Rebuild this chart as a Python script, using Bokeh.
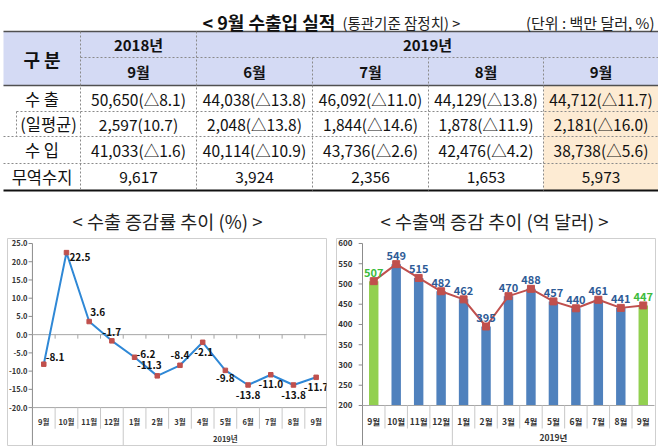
from bokeh.plotting import figure
from bokeh.models import (Range1d, FixedTicker, NumeralTickFormatter, Span, ColumnDataSource)
from bokeh.layouts import column, row
from bokeh.embed import file_html
from bokeh.resources import INLINE
from bokeh.core.properties import value, field

FONT = "Noto Sans CJK KR"

# ---------------- table data ----------------
table_title = "< 9월 수출입 실적"
table_subtitle = "(통관기준 잠정치) >"
table_unit = "(단위 : 백만 달러, %)"
header_label = "구 분"
header_years = ["2018년", "2019년"]
header_months = ["9월", "6월", "7월", "8월", "9월"]
row_labels = ["수 출", "(일평균)", "수 입", "무역수지"]
export_amt = [50650, 44038, 46092, 44129, 44712]
export_chg = [-8.1, -13.8, -11.0, -13.8, -11.7]
daily_amt = [2597, 2048, 1844, 1878, 2181]
daily_chg = [10.7, -13.8, -14.6, -11.9, -16.0]
import_amt = [41033, 40114, 43736, 42476, 38738]
import_chg = [-1.6, -10.9, -2.6, -4.2, -5.6]
trade_balance = [9617, 3924, 2356, 1653, 5973]

# ---------------- chart data ----------------
rate_title = "< 수출 증감률 추이 (%) >"
value_title = "< 수출액 증감 추이 (억 달러) >"
months = ["9월", "10월", "11월", "12월", "1월", "2월", "3월", "4월", "5월", "6월", "7월", "8월", "9월"]
year_group = "2019년"
growth_rate = [-8.1, 22.5, 3.6, -1.7, -6.2, -11.3, -8.4, -2.1, -9.8, -13.8, -11.0, -13.8, -11.7]
export_value = [507, 549, 515, 482, 462, 395, 470, 488, 457, 440, 461, 441, 447]
rate_ticks = [-20, -15, -10, -5, 0, 5, 10, 15, 20, 25]
value_ticks = [200, 250, 300, 350, 400, 450, 500, 550, 600]

# ---------------- styles ----------------
HEADER_BG = "#D4DAF4"
HILITE_BG = "#FDEBD3"
LINE_BLUE = "#2F88D6"
RED = "#C0504D"
BAR_BLUE = "#4F81BD"
BAR_GREEN = "#92D050"
LBL_BLUE = "#2E5B96"
LBL_GREEN = "#3DBB3D"
AXIS_GRAY = "#8C8C8C"
SEP_GRAY = "#C8C8C8"
BOX_GRAY = "#CFCFCF"


def chg(c):
    return ("△" if c < 0 else "") + f"{abs(c):.1f}"


def cell(a, c):
    return f"{a:,}({chg(c)})"


rows_text = [
    [cell(a, c) for a, c in zip(export_amt, export_chg)],
    [cell(a, c) for a, c in zip(daily_amt, daily_chg)],
    [cell(a, c) for a, c in zip(import_amt, import_chg)],
    [f"{b:,}" for b in trade_balance],
]

# ================= TABLE =================
W = 658
col_edges = [3, 80, 196, 312, 428, 543, 658]
head_top, head_mid, head_bot = 31, 57, 85
row_edges = [85, 111, 136, 163, 190]
col_c = [(col_edges[i] + col_edges[i + 1]) / 2 for i in range(len(col_edges) - 1)]

t = figure(width=W, height=200, x_range=Range1d(0, W), y_range=Range1d(200, 0),
           x_axis_location=None, y_axis_location=None, min_border=0,
           outline_line_color=None, output_backend="svg", toolbar_location=None)
t.grid.visible = False

t.quad(left=[col_edges[0]], right=[W], top=[head_top], bottom=[head_bot],
       fill_color=HEADER_BG, line_color=None)
t.quad(left=[col_edges[5]], right=[W], top=[head_bot], bottom=[row_edges[-1]],
       fill_color=HILITE_BG, line_color=None)

t.segment(x0=[col_edges[0], col_edges[0]], y0=[head_top, head_bot],
          x1=[W, W], y1=[head_top, head_bot], line_color="#505050", line_width=1.5)
t.segment(x0=[col_edges[0]], y0=[row_edges[-1]], x1=[W], y1=[row_edges[-1]],
          line_color="#111111", line_width=2)
hx0 = [col_edges[1], 16, col_edges[0], col_edges[0]]
hy = [head_mid, row_edges[1], row_edges[2], row_edges[3]]
t.segment(x0=hx0, y0=hy, x1=[W] * 4, y1=hy, line_color="#8A8A8A", line_width=1, line_dash="2 2")
vx = [col_edges[1], col_edges[2], col_edges[3], col_edges[4], col_edges[5], 16]
vy0 = [head_top, head_top, head_mid, head_mid, head_mid, row_edges[1]]
vy1 = [row_edges[-1]] * 5 + [row_edges[2]]
t.segment(x0=vx, y0=vy0, x1=vx, y1=vy1, line_color="#8A8A8A", line_width=1, line_dash="2 2")

t.text(x=[202], y=[21], text=[table_title], text_font=value(FONT), text_font_size="18px",
       text_font_style="bold", text_baseline="middle", text_align="left", text_color="#111111")
t.text(x=[342], y=[22], text=[table_subtitle], text_font=value(FONT), text_font_size="14.5px",
       text_baseline="middle", text_align="left", text_color="#222222")
t.text(x=[654], y=[22], text=[table_unit], text_font=value(FONT), text_font_size="15px",
       text_baseline="middle", text_align="right", text_color="#222222")

t.text(x=[col_c[0]], y=[(head_top + head_bot) / 2], text=[header_label], text_font=value(FONT),
       text_font_size="18px", text_font_style="bold", text_align="center", text_baseline="middle",
       text_color="#111111")
t.text(x=[col_c[1], (col_edges[2] + W) / 2], y=[(head_top + head_mid) / 2] * 2, text=header_years,
       text_font=value(FONT), text_font_size="15px", text_font_style="bold",
       text_align="center", text_baseline="middle", text_color="#111111")
t.text(x=col_c[1:], y=[(head_mid + head_bot) / 2] * 5, text=header_months,
       text_font=value(FONT), text_font_size="15px", text_font_style="bold",
       text_align="center", text_baseline="middle", text_color="#111111")

row_c = [(row_edges[i] + row_edges[i + 1]) / 2 for i in range(4)]
lab_x = [col_c[0], (16 + col_edges[1]) / 2, col_c[0], col_c[0]]
t.text(x=lab_x, y=row_c, text=row_labels, text_font=value(FONT), text_font_size="16.5px",
       text_align="center", text_baseline="middle", text_color="#111111")
bx, by, bt = [], [], []
for r, vals in enumerate(rows_text):
    for c, s in enumerate(vals):
        bx.append(col_c[c + 1])
        by.append(row_c[r])
        bt.append(s)
t.text(x=bx, y=by, text=bt, text_font=value(FONT), text_font_size="15.5px",
       text_align="center", text_baseline="middle", text_color="#111111")

# ================= common chart helpers =================
n = len(months)
xs = list(range(n))
year_start = months.index("1월")
bounds = [i - 0.5 for i in range(1, n)]
x_left = -0.5   # category axis start


def make_chart(title, x_range, y_range, ticks, fmt, tick_size, standoff, title_offset, tick_len):
    p = figure(width=329, height=248, x_range=x_range, y_range=y_range,
               x_axis_location=None, min_border_left=7, min_border_right=3, min_border_top=38,
               min_border_bottom=3, outline_line_color=BOX_GRAY, outline_line_width=1,
               output_backend="svg", toolbar_location=None, title=title)
    p.grid.visible = False
    ax = p.yaxis[0]
    ax.ticker = FixedTicker(ticks=ticks)
    if fmt:
        ax.formatter = NumeralTickFormatter(format=fmt)
    ax.major_label_text_font = FONT
    ax.major_label_text_font_size = tick_size
    ax.major_label_text_font_style = "bold"
    ax.major_label_text_color = "#333333"
    ax.axis_line_color = None
    ax.major_tick_line_color = None
    ax.minor_tick_line_color = None
    ax.major_tick_out = 0
    ax.major_tick_in = 0
    ax.minor_tick_out = 0
    ax.minor_tick_in = 0
    ax.major_label_standoff = standoff
    p.title.text_font = FONT
    p.title.text_font_size = "18.5px"
    p.title.text_font_style = "normal"
    p.title.text_color = "#222222"
    p.title.align = "left"
    p.title.offset = title_offset
    p.title.standoff = 10
    # value axis line and its ticks
    p.segment(x0=[x_left], y0=[y_range.start], x1=[x_left], y1=[ticks[-1]],
              line_color=AXIS_GRAY, line_width=1)
    p.segment(x0=[x_left - tick_len] * len(ticks), y0=ticks, x1=[x_left] * len(ticks), y1=ticks,
              line_color=AXIS_GRAY, line_width=1)
    return p


def categories(p, base, sep_lo, axis_lo, lab_y, year_y, size):
    p.segment(x0=[x_left], y0=[base], x1=[n - 0.5], y1=[base], line_color="#A6A6A6", line_width=1)
    y1 = [axis_lo if b == year_start - 0.5 else sep_lo for b in bounds]
    p.segment(x0=bounds, y0=[base] * len(bounds), x1=bounds, y1=y1,
              line_color=SEP_GRAY, line_width=1)
    p.text(x=xs, y=[lab_y] * n, text=months, text_font=value(FONT), text_font_size=size,
           text_font_style="bold", text_align="center", text_baseline="middle", text_color="#333333")
    p.text(x=[(year_start + n - 1) / 2], y=[year_y], text=[year_group], text_font=value(FONT),
           text_font_size=size, text_font_style="bold", text_align="center",
           text_baseline="middle", text_color="#333333")


# ================= LEFT CHART =================
L = make_chart(rate_title, Range1d(-1.598, 12.455), Range1d(-30.4, 26.37), rate_ticks, "0.0",
               "7.5px", -20, 65, 0.17)
categories(L, rate_ticks[0], -25.8, -30.4, -23.8, -28.5, "7.5px")
# zero axis line with ticks
L.segment(x0=[x_left], y0=[0], x1=[n - 0.5], y1=[0], line_color="#A6A6A6", line_width=1)
L.segment(x0=bounds, y0=[0] * len(bounds), x1=bounds, y1=[-1.1] * len(bounds),
          line_color="#A6A6A6", line_width=1)
L.line(xs, growth_rate, line_color=LINE_BLUE, line_width=2)
L.scatter(xs, growth_rate, marker="square", size=4.5, fill_color=RED, line_color=RED)
dx = [2, 3, 1, 0, 2, -8, 0, 1, 0, 0, 0, 0, 0]
dy = [-7, 4, -10, -9, -3, -11, -10, 10, 8, 10, 9, 10, 10]
al = ["left", "left", "left", "center", "left", "center", "center", "center",
      "center", "center", "center", "center", "center"]
src_l = ColumnDataSource(dict(x=xs, y=growth_rate, label=[f"{v:.1f}" for v in growth_rate],
                              dx=dx, dy=dy, align=al))
L.text(x="x", y="y", text="label", x_offset="dx", y_offset="dy", text_align=field("align"),
       source=src_l, text_font=value(FONT), text_font_size="10px", text_font_style="bold",
       text_baseline="middle", text_color="#111111")

# ================= RIGHT CHART =================
R = make_chart(value_title, Range1d(-1.658, 12.545), Range1d(101.2, 612.3), value_ticks, None,
               "8px", -16, 44, 0.17)
bar_colors = [BAR_GREEN if m == months[0] else BAR_BLUE for m in months]
lab_colors = [LBL_GREEN if m == months[0] else LBL_BLUE for m in months]
src_r = ColumnDataSource(dict(x=xs, top=export_value, color=bar_colors, lc=lab_colors,
                              label=[str(v) for v in export_value]))
R.vbar(x="x", top="top", bottom=value_ticks[0], width=0.42, fill_color="color",
       line_color=None, source=src_r)
categories(R, value_ticks[0], 143.2, 101.2, 160.5, 121, "8.5px")
R.line(xs, export_value, line_color=RED, line_width=2)
R.scatter(xs, export_value, marker="square", size=7, fill_color=RED, line_color=RED)
R.text(x="x", y="top", text="label", y_offset=-9, source=src_r, text_color="lc",
       text_font=value(FONT), text_font_size="11px", text_font_style="bold",
       text_align="center", text_baseline="middle")

layout = column(t, row(L, R))
open("out.html", "w").write(file_html(layout, INLINE))
